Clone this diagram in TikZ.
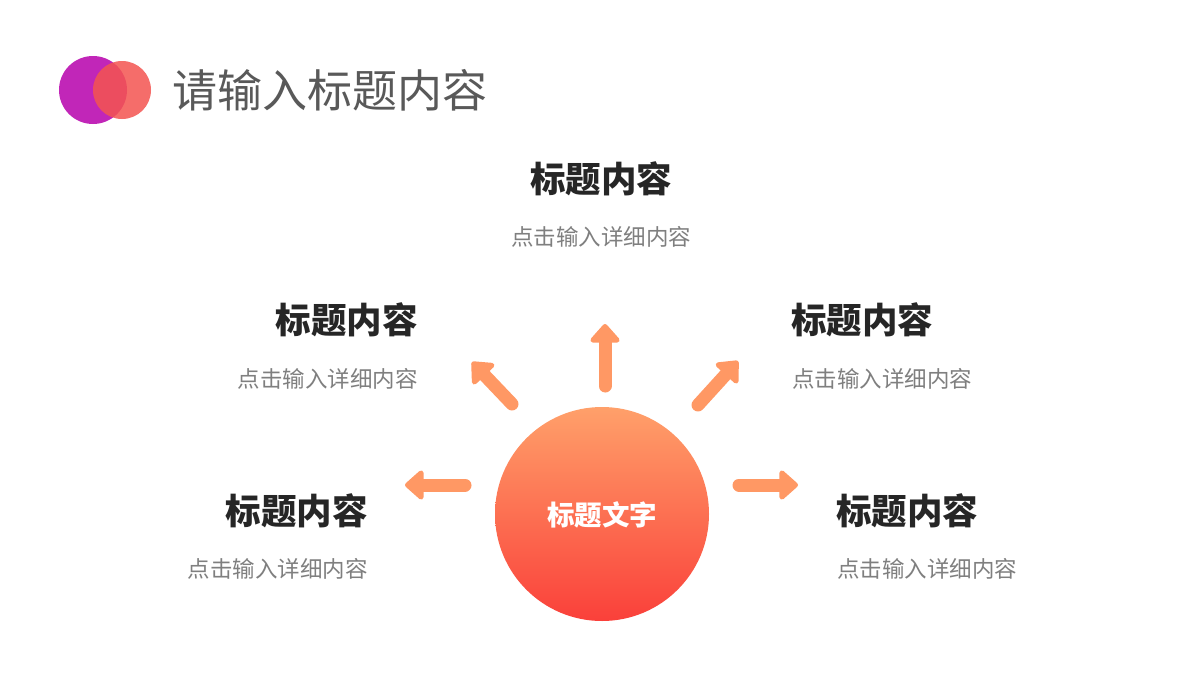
\documentclass[tikz,border=0pt]{standalone}
\usepackage{fontspec}
\usetikzlibrary{arrows.meta}
\newfontfamily\cjk{Noto Sans CJK SC}
\definecolor{arr}{RGB}{255,152,100}
\definecolor{topc}{RGB}{255,160,106}
\definecolor{botc}{RGB}{250,64,58}
\definecolor{purp}{RGB}{193,38,184}
\definecolor{redc}{RGB}{244,84,80}
\definecolor{ttl}{RGB}{89,89,89}
\definecolor{hd}{RGB}{38,38,38}
\definecolor{sub}{RGB}{127,127,127}
\tikzset{
  ray/.style={draw=arr, line width=13pt, line cap=round, -{Triangle[width=34pt,length=20pt,round]}},
  head/.style={font=\cjk\bfseries\fontsize{35.5}{40}\selectfont, text=hd, inner sep=0pt},
  desc/.style={font=\cjk\fontsize{22.5}{26}\selectfont, text=sub, inner sep=0pt}
}
\begin{document}
\begin{tikzpicture}[x=1pt,y=-1pt]
\useasboundingbox (0,0) rectangle (1200,680);
\fill[white] (0,0) rectangle (1200,680);
% title icon
\fill[purp] (93,90) circle (34);
\fill[redc, opacity=0.85] (122,90) circle (29);
\node[anchor=west, inner sep=0pt, font=\cjk\fontsize{45}{50}\selectfont, text=ttl] (title) at (172,90) {请输入标题内容};
% center circle
\shade[top color=topc, bottom color=botc] (602,514) circle (107);
\node[font=\cjk\bfseries\fontsize{27.5}{32}\selectfont, text=white, inner sep=0pt] (c) at (602,515) {标题文字};
% arrows
\coordinate (u0) at (605,386); \coordinate (u1) at (605,324);
\coordinate (ul0) at (512,404); \coordinate (ul1) at (472,362);
\coordinate (ur0) at (698,405); \coordinate (ur1) at (738,361);
\coordinate (l0) at (465,485); \coordinate (l1) at (405,485);
\coordinate (r0) at (739,485); \coordinate (r1) at (798,485);
\draw[ray] (u0) -- (u1);
\draw[ray] (ul0) -- (ul1);
\draw[ray] (ur0) -- (ur1);
\draw[ray] (l0) -- (l1);
\draw[ray] (r0) -- (r1);
% texts
\node[head] (h1) at (601,179) {标题内容};
\node[desc] (d1) at (601,237) {点击输入详细内容};
\node[head, anchor=east] (h2) at (418,320) {标题内容};
\node[desc, anchor=east] (d2) at (418,379) {点击输入详细内容};
\node[head, anchor=west] (h3) at (791,320) {标题内容};
\node[desc, anchor=west] (d3) at (792,379) {点击输入详细内容};
\node[head, anchor=east] (h4) at (368,511) {标题内容};
\node[desc, anchor=east] (d4) at (368,569) {点击输入详细内容};
\node[head, anchor=west] (h5) at (836,511) {标题内容};
\node[desc, anchor=west] (d5) at (837,569) {点击输入详细内容};
\end{tikzpicture}
\end{document}
